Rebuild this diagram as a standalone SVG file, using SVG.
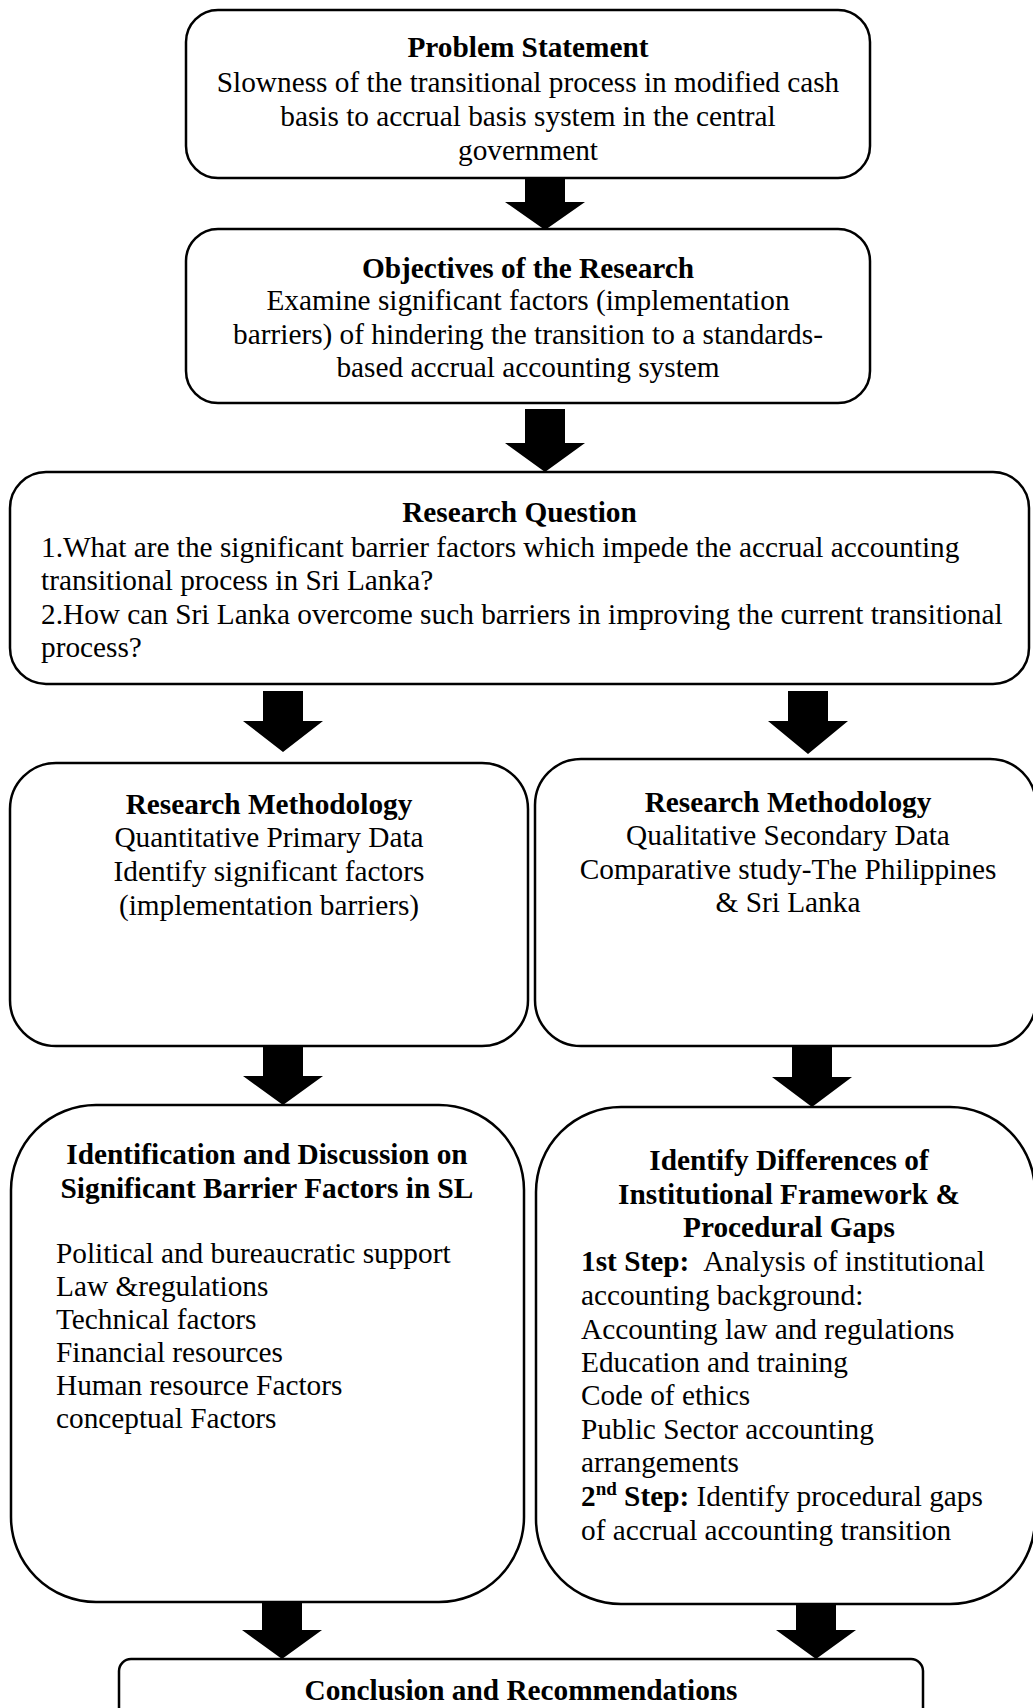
<svg xmlns="http://www.w3.org/2000/svg" width="1033" height="1708" viewBox="0 0 1033 1708">
  <style>
    .box { fill: #ffffff; stroke: #000000; stroke-width: 2.5; }
    .arrow { fill: #000000; stroke: none; }
    text { font-family: "Liberation Serif", "Times New Roman", serif; font-size: 29.3px; fill: #000000; }
    .t { font-weight: bold; }
    .c { text-anchor: middle; }
    .b { font-weight: bold; }
  </style>
  <rect width="1033" height="1708" fill="#ffffff"/>

  <!-- block arrows between the stages -->
  <g id="connectors">
    <path class="arrow" d="M525,179 H565 V202 H585 L545,230 L505,202 H525 Z"/>
    <path class="arrow" d="M525,409 H565 V443 H585 L545,472 L505,443 H525 Z"/>
    <path class="arrow" d="M263,691 H303 V721 H323 L283,752 L243,721 H263 Z"/>
    <path class="arrow" d="M788,691 H828 V721 H848 L808,754 L768,721 H788 Z"/>
    <path class="arrow" d="M263,1046 H303 V1076 H323 L283,1105 L243,1076 H263 Z"/>
    <path class="arrow" d="M792,1046 H832 V1077 H852 L812,1107 L772,1077 H792 Z"/>
    <path class="arrow" d="M262,1602 H302 V1630 H322 L282,1659 L242,1630 H262 Z"/>
    <path class="arrow" d="M796,1604 H836 V1630 H856 L816,1659 L776,1630 H796 Z"/>
  </g>

  <g id="problem-statement">
    <rect class="box" x="186" y="10" width="684" height="168" rx="32" ry="32"/>
    <text class="t c" x="528" y="57">Problem Statement</text>
    <text class="c" x="528" y="92">Slowness of the transitional process in modified cash</text>
    <text class="c" x="528" y="126">basis to accrual basis system in the central</text>
    <text class="c" x="528" y="160">government</text>
  </g>

  <g id="objectives">
    <rect class="box" x="186" y="229" width="684" height="174" rx="32" ry="32"/>
    <text class="t c" x="528" y="278">Objectives of the Research</text>
    <text class="c" x="528" y="310">Examine significant factors (implementation</text>
    <text class="c" x="528" y="344">barriers) of hindering the transition to a standards-</text>
    <text class="c" x="528" y="377">based accrual accounting system</text>
  </g>

  <g id="research-question">
    <rect class="box" x="10" y="472" width="1019" height="212" rx="36" ry="36"/>
    <text class="t c" x="519.5" y="522">Research Question</text>
    <text x="41" y="557">1.What are the significant barrier factors which impede the accrual accounting</text>
    <text x="41" y="590">transitional process in Sri Lanka?</text>
    <text x="41" y="624">2.How can Sri Lanka overcome such barriers in improving the current transitional</text>
    <text x="41" y="657">process?</text>
  </g>

  <g id="methodology-quantitative">
    <rect class="box" x="10" y="763" width="518" height="283" rx="46" ry="46"/>
    <text class="t c" x="269" y="814">Research Methodology</text>
    <text class="c" x="269" y="847">Quantitative Primary Data</text>
    <text class="c" x="269" y="881">Identify significant factors</text>
    <text class="c" x="269" y="915">(implementation barriers)</text>
  </g>

  <g id="methodology-qualitative">
    <rect class="box" x="535" y="759" width="501" height="287" rx="46" ry="46"/>
    <text class="t c" x="788" y="812">Research Methodology</text>
    <text class="c" x="788" y="845">Qualitative Secondary Data</text>
    <text class="c" x="788" y="879">Comparative study-The Philippines</text>
    <text class="c" x="788" y="912">&amp; Sri Lanka</text>
  </g>

  <g id="barrier-factors">
    <rect class="box" x="11" y="1105" width="513" height="497" rx="85" ry="85"/>
    <text class="t c" x="267" y="1164">Identification and Discussion on</text>
    <text class="t c" x="267" y="1198">Significant Barrier Factors in SL</text>
    <text x="56" y="1263">Political and bureaucratic support</text>
    <text x="56" y="1296">Law &amp;regulations</text>
    <text x="56" y="1329">Technical factors</text>
    <text x="56" y="1362">Financial resources</text>
    <text x="56" y="1395">Human resource Factors</text>
    <text x="56" y="1428">conceptual Factors</text>
  </g>

  <g id="institutional-differences">
    <rect class="box" x="536" y="1107" width="499" height="497" rx="85" ry="85"/>
    <text class="t c" x="789" y="1170">Identify Differences of</text>
    <text class="t c" x="789" y="1204">Institutional Framework &amp;</text>
    <text class="t c" x="789" y="1237">Procedural Gaps</text>
    <text x="581" y="1271"><tspan class="b">1st Step:</tspan><tspan dx="14">Analysis of institutional</tspan></text>
    <text x="581" y="1305">accounting background:</text>
    <text x="581" y="1339">Accounting law and regulations</text>
    <text x="581" y="1372">Education and training</text>
    <text x="581" y="1405">Code of ethics</text>
    <text x="581" y="1439">Public Sector accounting</text>
    <text x="581" y="1472">arrangements</text>
    <text x="581" y="1506"><tspan class="b">2</tspan><tspan class="b" font-size="19" dy="-11">nd</tspan><tspan class="b" dy="11"> Step:</tspan> Identify procedural gaps</text>
    <text x="581" y="1540">of accrual accounting transition</text>
  </g>

  <g id="conclusion">
    <rect class="box" x="119" y="1659" width="804" height="80" rx="12" ry="12"/>
    <text class="t c" x="521" y="1700">Conclusion and Recommendations</text>
  </g>
</svg>
